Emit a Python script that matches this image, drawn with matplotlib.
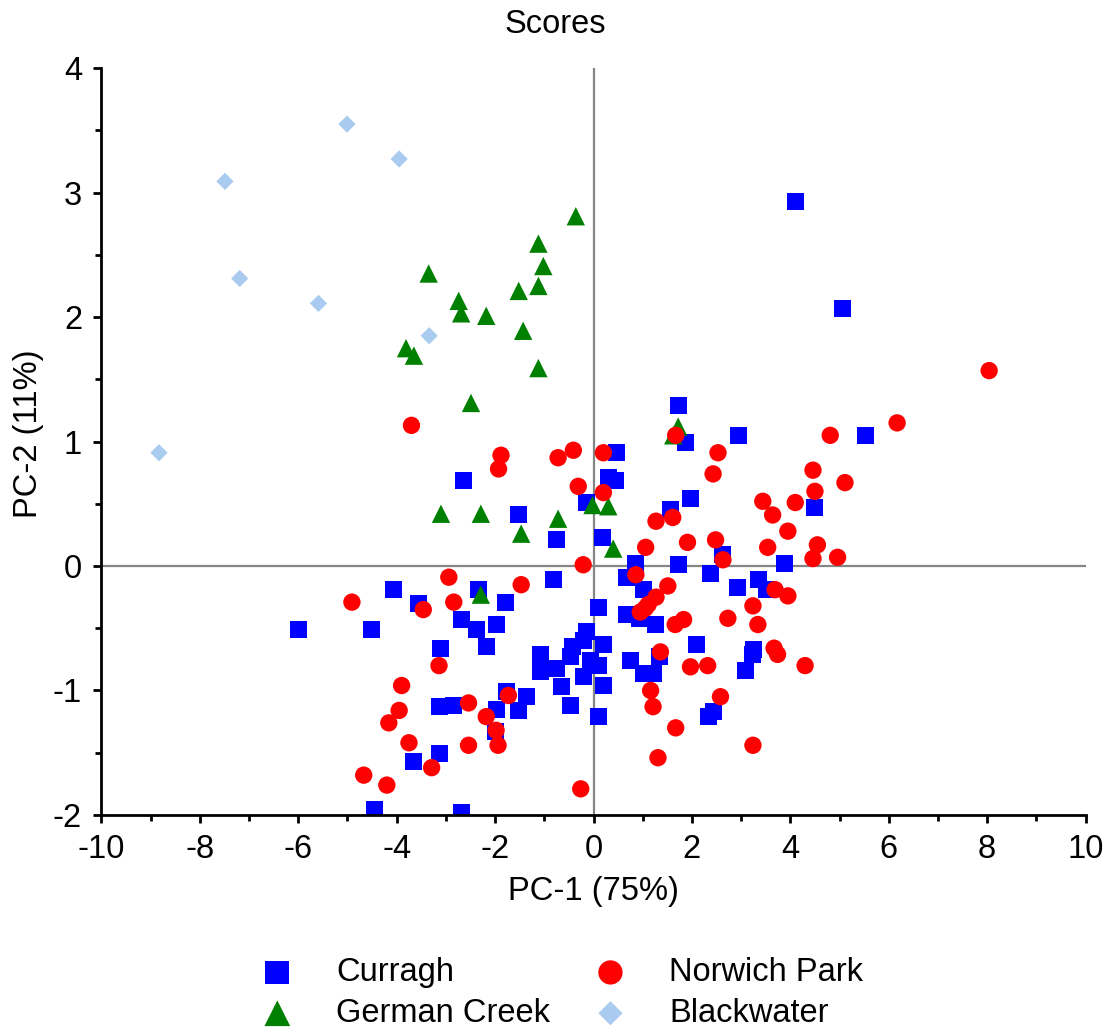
import numpy as np
import matplotlib.pyplot as plt
from matplotlib.ticker import MultipleLocator

plt.rcParams['font.family'] = ['Liberation Sans', 'DejaVu Sans']
plt.rcParams['axes.unicode_minus'] = False

# PCA scores per mine site: (PC-1, PC-2)
curragh_x = [4.10, 5.07, 5.52, 2.94, 1.72, 1.87, 1.97, 4.50, 3.89, -6.00, -4.52, -4.46, -2.69,
             -2.64, -1.52, -0.76, 0.46, 0.31, 0.44, -0.15, 0.19, 1.56, 2.63, 0.86, 1.72, 2.37,
             -4.06, -3.56, -2.33, -1.78, -0.82, -2.68, -2.37, -1.98, 0.67, 1.01, 0.67, 0.93,
             1.25, 0.10, 2.93, 3.35, 3.52, 2.10, -0.14, -0.20, 0.20, -0.43, -0.46, -0.07, 0.10,
             -0.21, 0.20, -0.65, -0.76, -1.07, -1.07, -0.46, 0.10, -3.10, -2.17, 3.25, -1.76,
             -1.37, -1.53, -1.97, -2.00, -3.13, -2.85, -3.14, -3.65, 0.75, 1.01, 1.22, 1.35,
             3.24, 3.09, 2.43, 2.33]
curragh_y = [2.93, 2.07, 1.05, 1.05, 1.29, 0.99, 0.54, 0.47, 0.02, -0.51, -0.51, -1.96, -1.98,
             0.69, 0.41, 0.21, 0.91, 0.71, 0.69, 0.51, 0.23, 0.45, 0.09, 0.02, 0.01, -0.06,
             -0.19, -0.30, -0.19, -0.29, -0.11, -0.43, -0.51, -0.47, -0.09, -0.19, -0.39, -0.42,
             -0.47, -0.33, -0.17, -0.11, -0.19, -0.63, -0.53, -0.60, -0.63, -0.65, -0.73, -0.76,
             -0.80, -0.89, -0.96, -0.97, -0.82, -0.71, -0.85, -1.12, -1.21, -0.66, -0.65, -0.67,
             -1.01, -1.05, -1.16, -1.15, -1.33, -1.13, -1.12, -1.51, -1.57, -0.76, -0.86, -0.86,
             -0.73, -0.71, -0.84, -1.17, -1.21]

norwich_x = [8.04, 6.17, 4.81, 2.53, 2.43, 1.67, 4.46, 4.50, 5.11, 3.44, 4.10, 3.64, 3.95,
             1.27, 1.61, 1.91, 2.48, 3.54, 4.55, 4.46, 4.96, 2.63, 1.06, 1.51, 1.27, 3.69,
             3.95, 3.24, 1.83, 1.66, 2.73, 3.34, 3.67, 3.74, 0.86, 1.11, 0.95, 1.05, 4.30,
             1.36, 1.97, 2.32, 1.16, 1.21, 2.58, 1.67, 3.24, 1.31, -3.70, -1.88, -1.93, -0.72,
             -0.41, 0.20, -0.31, 0.20, -0.21, -2.94, -1.47, -2.84, -3.46, -4.91, -3.14, -3.90,
             -3.95, -4.16, -3.75, -4.67, -4.20, -3.29, -2.54, -2.54, -2.18, -1.98, -1.94, -1.73,
             -0.26]
norwich_y = [1.57, 1.15, 1.05, 0.91, 0.74, 1.05, 0.77, 0.60, 0.67, 0.52, 0.51, 0.41, 0.28,
             0.36, 0.39, 0.19, 0.21, 0.15, 0.17, 0.06, 0.07, 0.05, 0.15, -0.16, -0.25, -0.19,
             -0.24, -0.32, -0.43, -0.47, -0.42, -0.47, -0.66, -0.71, -0.07, -0.31, -0.37, -0.34,
             -0.80, -0.69, -0.81, -0.80, -1.00, -1.13, -1.05, -1.30, -1.44, -1.54, 1.13, 0.89,
             0.78, 0.87, 0.93, 0.91, 0.64, 0.59, 0.01, -0.09, -0.15, -0.29, -0.35, -0.29, -0.80,
             -0.96, -1.16, -1.26, -1.42, -1.68, -1.76, -1.62, -1.10, -1.44, -1.21, -1.32, -1.44,
             -1.04, -1.79]

german_x = [-0.36, -1.12, -1.02, -3.35, -1.12, -1.52, -2.74, -2.69, -2.18, -1.43, -3.81, -3.65,
            -1.12, -2.49, 1.72, 1.62, -3.10, -2.29, -0.72, -1.47, -0.02, 0.30, 0.40, -2.29]
german_y = [2.81, 2.59, 2.41, 2.35, 2.25, 2.21, 2.13, 2.03, 2.01, 1.89, 1.75, 1.69,
            1.59, 1.31, 1.12, 1.05, 0.42, 0.42, 0.38, 0.26, 0.49, 0.48, 0.14, -0.23]

blackwater_x = [-5.01, -3.95, -7.49, -7.19, -5.59, -3.34, -8.83]
blackwater_y = [3.55, 3.27, 3.09, 2.31, 2.11, 1.85, 0.91]

fig = plt.figure(figsize=(11.1, 10.32), dpi=100)
ax = fig.add_axes([0.0914, 0.2103, 0.8866, 0.7237])

ax.axhline(0, color='#858585', lw=1.6, zorder=1)
ax.axvline(0, color='#858585', lw=1.6, zorder=1)

h_cur = ax.scatter(curragh_x, curragh_y, marker='s', s=150, c='#0000FF', edgecolors='none', zorder=2, label='Curragh')
h_ger = ax.scatter(german_x, german_y, marker='^', s=175, c='#008000', edgecolors='none', zorder=3, label='German Creek')
h_nor = ax.scatter(norwich_x, norwich_y, marker='o', s=156, c='#FF0000', edgecolors='none', zorder=4, label='Norwich Park')
h_bla = ax.scatter(blackwater_x, blackwater_y, marker='D', s=77, c='#A9CBEF', edgecolors='none', zorder=4, label='Blackwater')

ax.set_xlim(-10, 10)
ax.set_ylim(-2, 4)
ax.xaxis.set_major_locator(MultipleLocator(2))
ax.xaxis.set_minor_locator(MultipleLocator(1))
ax.yaxis.set_major_locator(MultipleLocator(1))
ax.yaxis.set_minor_locator(MultipleLocator(0.5))

for side in ['top', 'right']:
    ax.spines[side].set_visible(False)
for side in ['left', 'bottom']:
    ax.spines[side].set_linewidth(2)
ax.tick_params(which='major', length=6, width=2, labelsize=23.5, pad=8)
ax.tick_params(which='minor', length=4.5, width=2)

fig.text(0.5, 1 - 33 / 1032, 'Scores', fontsize=23.5, ha='center', va='baseline')
fig.text(593 / 1110, 1 - 900 / 1032, 'PC-1 (75%)', fontsize=23.5, ha='center', va='baseline')
fig.text(37 / 1110, 1 - 434 / 1032, 'PC-2 (11%)', fontsize=23.5, rotation=90,
         rotation_mode='anchor', ha='center', va='baseline')

fig.legend([h_cur, h_ger, h_nor, h_bla], ['Curragh', 'German Creek', 'Norwich Park', 'Blackwater'],
           ncol=2, loc='upper left', bbox_to_anchor=(261 / 1110, 1 - 957 / 1032),
           frameon=False, fontsize=23.5, markerscale=1.4, handlelength=1.0,
           handletextpad=1.3, columnspacing=1.35, labelspacing=0.3, borderpad=0,
           borderaxespad=0)

fig.savefig('out.png', dpi=100)
